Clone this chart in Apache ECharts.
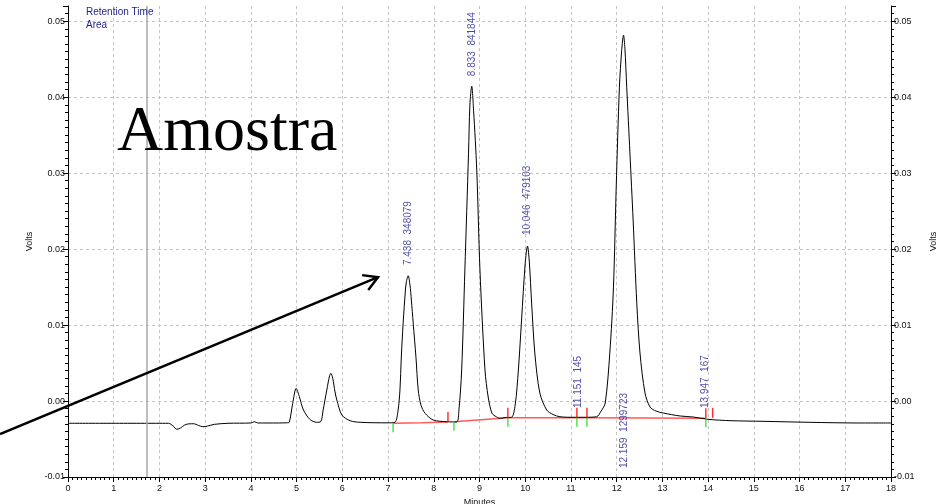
<!DOCTYPE html>
<html>
<head>
<meta charset="utf-8">
<script src="https://cdn.jsdelivr.net/npm/echarts@6/dist/echarts.min.js"></script>
<style>
html,body{margin:0;padding:0;background:#fff;}
#chart{width:936px;height:504px;}
</style>
</head>
<body>
<div id="chart"></div>
<script>
// ---- data ----
const traceTimes = [0,2.20,2.30,2.38,2.46,2.55,2.65,2.75,2.85,2.95,3.05,3.20,3.50,4.00,4.08,4.15,4.60,4.80,
  4.84,4.915,4.99,5.06,5.15,5.29,5.44,5.53,5.58,5.66,5.72,5.75,5.79,5.84,5.88,5.99,6.17,6.39,7.00,
  7.15,7.22,7.26,7.29,7.33,7.38,7.40,7.44,7.48,7.51,7.55,7.61,7.66,7.72,7.81,7.99,8.28,
  8.50,8.55,8.61,8.68,8.76,8.79,8.83,8.87,8.94,9.01,9.12,9.19,9.27,9.34,9.45,
  9.56,9.70,9.78,9.85,9.92,10.00,10.05,10.09,10.14,10.21,10.32,10.47,10.61,10.76,11.05,11.31,
  11.56,11.66,11.75,11.85,11.93,11.99,12.06,12.11,12.15,12.18,12.22,12.29,12.36,12.44,12.51,12.62,12.73,12.86,13.02,13.39,13.68,
  14.00,14.50,15.20,16.21,17.30,18.00];
const traceVolts = [-0.00293,-0.00293,-0.00330,-0.00372,-0.00355,-0.00316,-0.00300,-0.00299,-0.00320,-0.00338,-0.00330,-0.00307,-0.00293,-0.00289,-0.00272,-0.00289,-0.00289,-0.00286,
  -0.00280,-0.00030,0.00167,0.00057,-0.00118,-0.00241,-0.00280,-0.00270,-0.00118,0.00145,0.00330,0.00364,0.00300,0.00120,0.00013,-0.00184,-0.00259,-0.00280,-0.00287,
  -0.00280,-0.00118,0.00145,0.00579,0.01026,0.01461,0.01566,0.01649,0.01526,0.01329,0.01026,0.00579,0.00145,-0.00053,-0.00162,-0.00250,-0.00272,
  -0.00276,-0.00118,0.00408,0.01724,0.03263,0.03895,0.04145,0.03829,0.03040,0.01724,0.00408,0.00053,-0.00158,-0.00197,-0.00228,
  -0.00217,-0.00214,-0.00053,0.00408,0.01066,0.01816,0.02039,0.01829,0.01289,0.00632,0.00105,-0.00118,-0.00178,-0.00207,-0.00214,-0.00214,
  -0.00207,-0.00132,-0.00026,0.00632,0.01500,0.02816,0.04132,0.04618,0.04816,0.04645,0.04132,0.03263,0.02382,0.01289,0.00632,0.00105,-0.00079,-0.00132,-0.00158,-0.00197,-0.00211,
  -0.00241,-0.00259,-0.00267,-0.00280,-0.00289,-0.00289];

// integration baseline (red)
const baseTimes = [7.11,7.75,8.31,null,8.45,9.62,11.13,11.35,13.95];
const baseVolts = [-0.00293,-0.00285,-0.00276,null,-0.00272,-0.00220,-0.00220,-0.00220,-0.00228];
// peak start/end markers
const redTickTimes = [8.31,9.62,11.13,11.35,13.95,14.10];
const redTickVolts = [-0.00276,-0.00220,-0.00220,-0.00220,-0.00228,-0.00222];
const greenTickTimes = [7.11,8.44,9.62,11.13,11.35,13.95];
const greenTickVolts = [-0.00293,-0.00272,-0.00220,-0.00220,-0.00220,-0.00228];

// peak annotations
const peakTimes = [7.438,8.833,10.046,11.151,12.159,13.947];
const peakAreas = [348079,841844,479103,145,1299723,167];
const peakLabelVolts = [0.0179,0.04276,0.02184,-0.00092,-0.00882,-0.00092];

const injectionMarkTime = 1.73;
const xMin = 0, xMax = 18, xStep = 1;
const yMin = -0.01, yMax = 0.052, yStep = 0.01;

// ---- chart ----
const FONT = '"Liberation Sans", Arial, sans-serif';
const BLUE = '#1e1e8c';
const chart = echarts.init(document.getElementById('chart'), null, {renderer: 'canvas'});

const zip = (a, b) => a.map((t, i) => t === null ? [null, null] : [t, b[i]]);
const yFmt = v => {
  const r = Math.round(v / yStep);
  if (Math.abs(v - r * yStep) > 1e-9) return '';
  const s = (r * yStep).toFixed(2);
  return s === '-0.00' ? '0.00' : s;
};

const yAxisBase = {
  type: 'value', min: yMin, max: yMax, interval: yStep,
  axisLine: {show: true, onZero: false, lineStyle: {color: '#000', width: 1}},
  axisTick: {show: true, length: 5, lineStyle: {color: '#000'}},
  minorTick: {show: true, splitNumber: 10, length: 3, lineStyle: {color: '#000'}},
  axisLabel: {fontSize: 9, color: '#111', fontFamily: FONT, margin: 3, formatter: yFmt},
  name: 'Volts', nameLocation: 'middle', nameRotate: 90,
  nameTextStyle: {fontSize: 9, color: '#111', fontFamily: FONT}
};

chart.setOption({
  animation: false,
  backgroundColor: '#fff',
  grid: {left: 68, right: 45, top: 6, bottom: 27, outerBoundsMode: 'none', containLabel: false},
  xAxis: {
    type: 'value', min: xMin, max: xMax, interval: xStep,
    axisLine: {onZero: false, lineStyle: {color: '#000', width: 1}},
    axisTick: {length: 5, lineStyle: {color: '#000'}},
    minorTick: {show: true, splitNumber: 10, length: 3, lineStyle: {color: '#000'}},
    axisLabel: {fontSize: 9, color: '#111', fontFamily: FONT, margin: 7},
    splitLine: {show: true, showMinLine: false, showMaxLine: false,
      lineStyle: {color: '#c4c4c4', type: [3, 3], width: 1}},
    name: 'Minutes', nameLocation: 'middle', nameGap: 20,
    nameTextStyle: {fontSize: 9, color: '#111', fontFamily: FONT}
  },
  yAxis: [
    Object.assign({}, yAxisBase, {position: 'left', nameGap: 32,
      splitLine: {show: true, showMinLine: false, showMaxLine: false,
        lineStyle: {color: '#c4c4c4', type: [3, 3], width: 1}}}),
    Object.assign({}, yAxisBase, {position: 'right', nameGap: 38, splitLine: {show: false}})
  ],
  series: [
    {
      type: 'line', data: zip(baseTimes, baseVolts), symbol: 'none', connectNulls: false,
      lineStyle: {color: '#ff5a5a', width: 1.5}, z: 3
    },
    {
      type: 'line', data: zip(traceTimes, traceVolts), symbol: 'none', smooth: 0.3,
      lineStyle: {color: '#000', width: 1}, z: 4,
      markLine: {
        silent: true, symbol: 'none', label: {show: false},
        lineStyle: {color: '#a8a8a8', type: 'solid', width: 1.5},
        data: [{xAxis: injectionMarkTime}]
      }
    },
    {
      type: 'scatter', data: zip(redTickTimes, redTickVolts), symbol: 'rect',
      symbolSize: [1.5, 10], symbolOffset: [0, -5], itemStyle: {color: '#ff0000'}, z: 5
    },
    {
      type: 'scatter', data: zip(greenTickTimes, greenTickVolts), symbol: 'rect',
      symbolSize: [1.5, 9], symbolOffset: [0, 4.5], itemStyle: {color: '#22dd22'}, z: 5
    },
    {
      type: 'scatter',
      data: peakTimes.map((t, i) => ({value: [t, peakLabelVolts[i]], name: t.toFixed(3) + '  ' + peakAreas[i]})),
      symbolSize: 1, itemStyle: {color: 'rgba(0,0,0,0)'}, z: 6,
      label: {
        show: true, position: 'inside', rotate: 90, align: 'left', verticalAlign: 'middle',
        formatter: p => p.name, color: BLUE, fontSize: 10, fontFamily: FONT
      }
    }
  ]
});

// annotations: title text, legend text and arrow
const tip = chart.convertToPixel({gridIndex: 0}, [6.78, 0.0163]);
const tail = chart.convertToPixel({gridIndex: 0}, [-1.487, -0.00434]);
const dx = tail[0] - tip[0], dy = tail[1] - tip[1];
const L = Math.hypot(dx, dy), bx = dx / L, by = dy / L;
const ang = 30 * Math.PI / 180, hl = 16;
const arm1 = [tip[0] + hl * (bx * Math.cos(ang) - by * Math.sin(ang)), tip[1] + hl * (bx * Math.sin(ang) + by * Math.cos(ang))];
const arm2 = [tip[0] + hl * (bx * Math.cos(-ang) - by * Math.sin(-ang)), tip[1] + hl * (bx * Math.sin(-ang) + by * Math.cos(-ang))];

chart.setOption({
  graphic: [
    {type: 'text', left: 86, top: 6, z: 10,
      style: {text: 'Retention Time\nArea', fill: BLUE, font: '10px ' + FONT, lineHeight: 13}},
    {type: 'text', left: 117, top: 101, z: 10,
      style: {text: 'Amostra', fill: '#000', font: '64px "Liberation Serif", "Times New Roman", serif'}},
    {type: 'polyline', z: 10, shape: {points: [tail, tip]}, style: {stroke: '#000', lineWidth: 2.5, fill: null}},
    {type: 'polyline', z: 10, shape: {points: [arm1, tip, arm2]}, style: {stroke: '#000', lineWidth: 2.5, fill: null}}
  ]
});
</script>
</body>
</html>
